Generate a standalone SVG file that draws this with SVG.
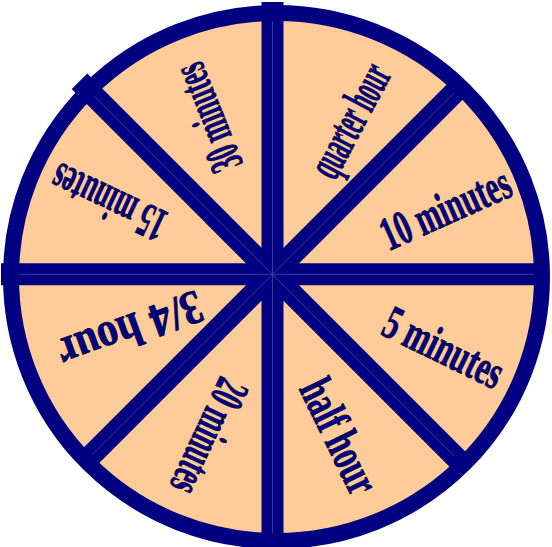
<svg xmlns="http://www.w3.org/2000/svg" width="552" height="547" viewBox="0 0 552 547">
  <defs>
    <style>
      .face { fill: #FFCC99; }
      .ring { fill: none; stroke: #000080; stroke-width: 16; }
      .spoke { stroke: #000080; stroke-width: 22; stroke-linecap: butt; }
      .seam { stroke: #3a3a94; stroke-width: 1; }
      .lbl { font-family: "Liberation Serif", "Times New Roman", serif; font-size: 48px; font-weight: bold; fill: #000080; stroke: #000030; stroke-width: 0.8; text-anchor: middle; dominant-baseline: central; }
    </style>
  </defs>
  <rect width="552" height="547" fill="#FFFFFF"/>
  <ellipse class="face" cx="276.5" cy="277" rx="265.5" ry="264"/>
  <g id="connectors">
    <line class="spoke" x1="272.5" y1="2" x2="272.5" y2="547"/>
    <line class="spoke" x1="1" y1="274.3" x2="534" y2="274.3"/>
    <line class="spoke" x1="272.5" y1="274.3" x2="79.5" y2="81.3"/>
    <line class="spoke" x1="272.5" y1="274.3" x2="463" y2="83.8"/>
    <line class="spoke" x1="272.5" y1="274.3" x2="463" y2="464.8"/>
    <line class="spoke" x1="272.5" y1="274.3" x2="82" y2="464.8"/>
    <line class="seam" x1="272.5" y1="20" x2="272.5" y2="534"/>
    <line class="seam" x1="18" y1="274.3" x2="534" y2="274.3"/>
    <line class="seam" x1="91" y1="92.8" x2="454" y2="455.8"/>
    <line class="seam" x1="454" y1="92.8" x2="91" y2="455.8"/>
  </g>
  <ellipse class="ring" cx="276.5" cy="277" rx="265.5" ry="264"/>
  <g id="label-quarter-hour"><text class="lbl" transform="translate(349,120) rotate(-62)" textLength="122" lengthAdjust="spacingAndGlyphs">quarter hour</text></g>
  <g id="label-10-minutes"><text class="lbl" transform="translate(445,208) rotate(-24)" textLength="138" lengthAdjust="spacingAndGlyphs">10 minutes</text></g>
  <g id="label-5-minutes"><text class="lbl" transform="translate(444,347) rotate(26)" textLength="128" lengthAdjust="spacingAndGlyphs">5 minutes</text></g>
  <g id="label-half-hour"><text class="lbl" transform="translate(340,436) rotate(64)" textLength="122" lengthAdjust="spacingAndGlyphs">half hour</text></g>
  <g id="label-20-minutes"><text class="lbl" transform="translate(210,437) rotate(115)" textLength="122" lengthAdjust="spacingAndGlyphs">20 minutes</text></g>
  <g id="label-3-4-hour"><text class="lbl" transform="translate(131,331) rotate(160)" textLength="150" lengthAdjust="spacingAndGlyphs">3/4 hour</text></g>
  <g id="label-15-minutes"><text class="lbl" transform="translate(108,203) rotate(205)" textLength="122" lengthAdjust="spacingAndGlyphs">15 minutes</text></g>
  <g id="label-30-minutes"><text class="lbl" transform="translate(207,118) rotate(-112)" textLength="112" lengthAdjust="spacingAndGlyphs">30 minutes</text></g>
</svg>
